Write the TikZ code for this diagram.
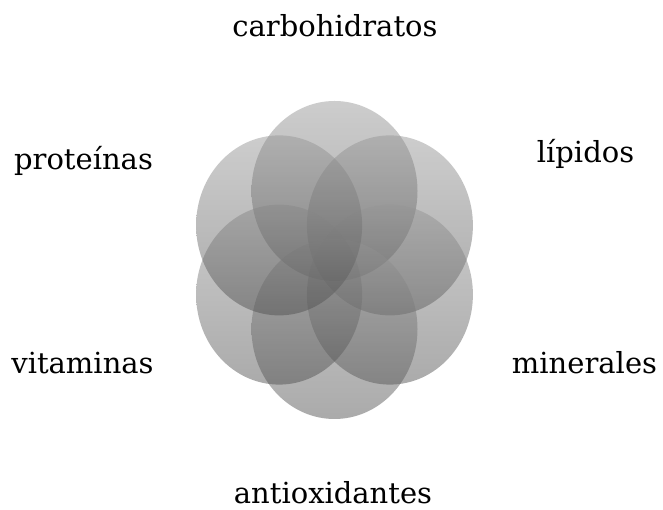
\documentclass[tikz,border=0pt]{standalone}
\usepackage{fontspec}
\setmainfont{DejaVu Serif}
\usetikzlibrary{shapes.geometric}
\definecolor{ctop}{RGB}{150,150,150}
\definecolor{cbot}{RGB}{78,78,78}
\tikzset{
  petal/.style={ellipse, draw=none, minimum width=166pt, minimum height=180pt,
    inner sep=0pt, top color=ctop, bottom color=cbot, fill opacity=0.48},
  lbl/.style={font=\fontsize{29}{34}\selectfont, anchor=base, inner sep=0pt, text=black}
}
\begin{document}
\begin{tikzpicture}[x=1pt,y=1pt]
\useasboundingbox (0,0) rectangle (663,510);
% centre (334.5, 250) in tikz coords
\node[petal] (c1) at (334.5,319) {};
\node[petal] (c2) at (389.9,284.6) {};
\node[petal] (c3) at (389.9,215.4) {};
\node[petal] (c4) at (334.5,181) {};
\node[petal] (c5) at (279.1,215.4) {};
\node[petal] (c6) at (279.1,284.6) {};
\node[lbl] (t1) at (335,473) {carbohidratos};
\node[lbl] (t2) at (585.5,347) {lípidos};
\node[lbl] (t3) at (584.5,136) {minerales};
\node[lbl] (t4) at (333,6.5) {antioxidantes};
\node[lbl] (t5) at (82.5,136) {vitaminas};
\node[lbl] (t6) at (83.5,340) {proteínas};
\end{tikzpicture}
\end{document}
